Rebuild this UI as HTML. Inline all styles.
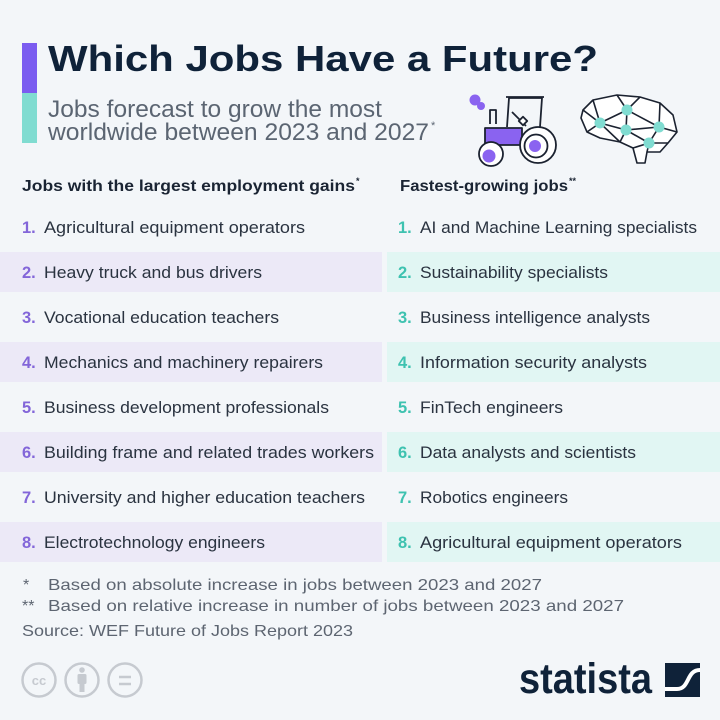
<!DOCTYPE html>
<html><head><meta charset="utf-8"><style>
html,body{margin:0;padding:0;background:#f3f6f9;}
svg{display:block;}
text{font-family:"Liberation Sans",sans-serif;}
</style></head><body>
<svg width="720" height="720" viewBox="0 0 720 720" xmlns="http://www.w3.org/2000/svg">
<rect width="720" height="720" fill="#f3f6f9"/>
<!-- side bars -->
<rect x="22" y="43" width="15" height="50" fill="#7b5cf0"/>
<rect x="22" y="93" width="15" height="50" fill="#80dcd1"/>
<!-- title -->
<text x="48" y="71" font-size="36" font-weight="bold" fill="#0f2239" textLength="550" lengthAdjust="spacingAndGlyphs">Which Jobs Have a Future?</text>
<text x="48" y="117" font-size="24" fill="#5b6572" textLength="334" lengthAdjust="spacingAndGlyphs">Jobs forecast to grow the most</text>
<text x="48" y="140" font-size="24" fill="#5b6572" textLength="381" lengthAdjust="spacingAndGlyphs">worldwide between 2023 and 2027</text>
<text x="431" y="129" font-size="11" fill="#5b6572">*</text>

<!-- tractor -->
<g stroke="#1b2230" stroke-width="1.8" fill="none" stroke-linejoin="round">
  <circle cx="475" cy="100" r="5.5" fill="#8a63f0" stroke="none"/>
  <circle cx="481" cy="106" r="4" fill="#8a63f0" stroke="none"/>
  <path d="M490,124 L490,110 L496,110 L496,124"/>
  <path d="M507,127 L509,98 L542,98 L540,127"/>
  <path d="M506,97 L544,97"/>
  <path d="M512,112 L526,126"/>
  <rect x="520" y="118" width="6" height="6" transform="rotate(45 523 121)" fill="#fff"/>
  <path d="M485,128 L522,128 L522,145 L485,145 Z" fill="#8a63f0"/>
  <circle cx="538" cy="145" r="18" fill="#fff"/>
  <circle cx="536" cy="146" r="11.5" fill="#fff"/>
  <circle cx="535" cy="146" r="6" fill="#8a63f0" stroke="none"/>
  <circle cx="491" cy="154" r="12" fill="#fff"/>
  <circle cx="489" cy="156" r="6.5" fill="#8a63f0" stroke="none"/>
</g>
<!-- brain -->
<g stroke="#1b2230" stroke-width="1.6" fill="none" stroke-linejoin="round">
  <polygon points="583,110 593,100 617,95 640,97 660,103 673,115 677,132 668,143 660,152 647,152 645,163 637,163 633,148 620,142 600,138 587,132 581,118" fill="#fff"/>
  <path d="M593,100 L600,123 L627,110 L617,95 M627,110 L640,97 M627,110 L659,127 L660,103 M627,110 L626,130 L600,123 L583,110 M600,123 L587,132 M626,130 L659,127 L677,132 M626,130 L649,143 L659,127 M649,143 L647,152 M626,130 L620,142 M649,143 L633,148 M600,123 L620,142 M649,143 L668,143"/>
</g>
<g fill="#80dcd1">
  <circle cx="627" cy="110" r="5.5"/>
  <circle cx="600" cy="123" r="5.5"/>
  <circle cx="626" cy="130" r="5.5"/>
  <circle cx="659" cy="127" r="5.5"/>
  <circle cx="649" cy="143" r="5.5"/>
</g>

<!-- headers -->
<text x="22" y="191" font-size="16" font-weight="bold" fill="#1a2433" textLength="333" lengthAdjust="spacingAndGlyphs">Jobs with the largest employment gains</text>
<text x="356" y="184" font-size="9" font-weight="bold" fill="#1a2433">*</text>
<text x="400" y="191" font-size="16" font-weight="bold" fill="#1a2433" textLength="168" lengthAdjust="spacingAndGlyphs">Fastest-growing jobs</text>
<text x="569" y="184" font-size="9" font-weight="bold" fill="#1a2433">**</text>

<!-- bands -->
<g fill="#ece9f7">
  <rect x="0" y="252" width="382" height="40"/>
  <rect x="0" y="342" width="382" height="40"/>
  <rect x="0" y="432" width="382" height="40"/>
  <rect x="0" y="522" width="382" height="40"/>
</g>
<g fill="#e1f6f3">
  <rect x="387" y="252" width="333" height="40"/>
  <rect x="387" y="342" width="333" height="40"/>
  <rect x="387" y="432" width="333" height="40"/>
  <rect x="387" y="522" width="333" height="40"/>
</g>

<!-- left numbers -->
<g font-size="16.5" font-weight="bold" fill="#8366d9">
  <text x="22" y="233">1.</text>
  <text x="22" y="278">2.</text>
  <text x="22" y="323">3.</text>
  <text x="22" y="368">4.</text>
  <text x="22" y="413">5.</text>
  <text x="22" y="458">6.</text>
  <text x="22" y="503">7.</text>
  <text x="22" y="548">8.</text>
</g>
<g font-size="16.5" font-weight="bold" fill="#3ec2b0">
  <text x="398" y="233">1.</text>
  <text x="398" y="278">2.</text>
  <text x="398" y="323">3.</text>
  <text x="398" y="368">4.</text>
  <text x="398" y="413">5.</text>
  <text x="398" y="458">6.</text>
  <text x="398" y="503">7.</text>
  <text x="398" y="548">8.</text>
</g>
<g font-size="16.5" fill="#2a3340">
  <text x="44" y="233" textLength="261" lengthAdjust="spacingAndGlyphs">Agricultural equipment operators</text>
  <text x="44" y="278" textLength="218" lengthAdjust="spacingAndGlyphs">Heavy truck and bus drivers</text>
  <text x="44" y="323" textLength="235" lengthAdjust="spacingAndGlyphs">Vocational education teachers</text>
  <text x="44" y="368" textLength="279" lengthAdjust="spacingAndGlyphs">Mechanics and machinery repairers</text>
  <text x="44" y="413" textLength="285" lengthAdjust="spacingAndGlyphs">Business development professionals</text>
  <text x="44" y="458" textLength="330" lengthAdjust="spacingAndGlyphs">Building frame and related trades workers</text>
  <text x="44" y="503" textLength="321" lengthAdjust="spacingAndGlyphs">University and higher education teachers</text>
  <text x="44" y="548" textLength="221" lengthAdjust="spacingAndGlyphs">Electrotechnology engineers</text>

  <text x="420" y="233" textLength="277" lengthAdjust="spacingAndGlyphs">AI and Machine Learning specialists</text>
  <text x="420" y="278" textLength="188" lengthAdjust="spacingAndGlyphs">Sustainability specialists</text>
  <text x="420" y="323" textLength="230" lengthAdjust="spacingAndGlyphs">Business intelligence analysts</text>
  <text x="420" y="368" textLength="227" lengthAdjust="spacingAndGlyphs">Information security analysts</text>
  <text x="420" y="413" textLength="143" lengthAdjust="spacingAndGlyphs">FinTech engineers</text>
  <text x="420" y="458" textLength="216" lengthAdjust="spacingAndGlyphs">Data analysts and scientists</text>
  <text x="420" y="503" textLength="148" lengthAdjust="spacingAndGlyphs">Robotics engineers</text>
  <text x="420" y="548" textLength="262" lengthAdjust="spacingAndGlyphs">Agricultural equipment operators</text>
</g>

<!-- footnotes -->
<g font-size="16" fill="#5d6571">
  <text x="23" y="590">*</text>
  <text x="48" y="590" textLength="494" lengthAdjust="spacingAndGlyphs">Based on absolute increase in jobs between 2023 and 2027</text>
  <text x="22" y="611">**</text>
  <text x="48" y="611" textLength="576" lengthAdjust="spacingAndGlyphs">Based on relative increase in number of jobs between 2023 and 2027</text>
  <text x="22" y="636" textLength="331" lengthAdjust="spacingAndGlyphs">Source: WEF Future of Jobs Report 2023</text>
</g>

<!-- CC icons -->
<g stroke="#c6cad0" stroke-width="2.5" fill="none">
  <circle cx="39" cy="680" r="16.5"/>
  <circle cx="82" cy="680" r="16.5"/>
  <circle cx="125" cy="680" r="16.5"/>
  <path d="M119,677 H131 M119,684 H131"/>
</g>
<text x="39" y="685" font-size="13" font-weight="bold" fill="#c6cad0" text-anchor="middle">cc</text>
<g fill="#c6cad0">
  <circle cx="82" cy="670" r="2.8"/>
  <rect x="77.5" y="674" width="9" height="10" rx="1.5"/>
  <rect x="79.5" y="683" width="5" height="9"/>
</g>

<!-- statista logo -->
<text x="519" y="693" font-size="43" font-weight="bold" fill="#0f2239" textLength="133" lengthAdjust="spacingAndGlyphs">statista</text>
<rect x="665" y="663" width="35" height="34" fill="#0f2239"/>
<path d="M665,689 L677,689 C690,689 686,670 700,670" stroke="#fff" stroke-width="4" fill="none"/>
</svg>
</body></html>
